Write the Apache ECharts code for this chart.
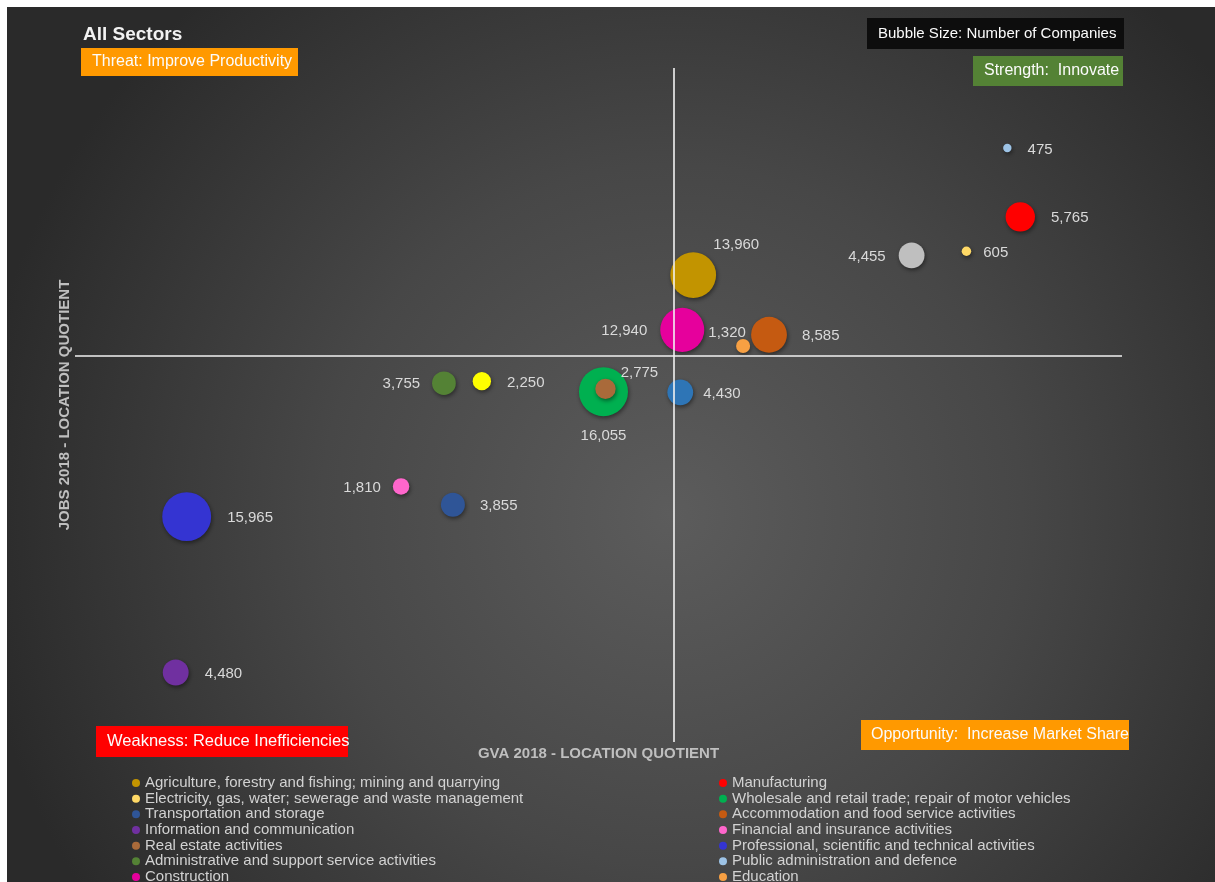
<!DOCTYPE html>
<html><head><meta charset="utf-8">
<script src="https://cdn.jsdelivr.net/npm/echarts@6/dist/echarts.min.js"></script>
<style>html,body{margin:0;padding:0;background:#fff}#c{width:1215px;height:882px}</style>
</head><body><div id="c"></div>
<script>
// ---- data ----
const sectors = [
  'Agriculture, forestry and fishing; mining and quarrying',
  'Manufacturing',
  'Electricity, gas, water; sewerage and waste management',
  'Wholesale and retail trade; repair of motor vehicles',
  'Transportation and storage',
  'Accommodation and food service activities',
  'Information and communication',
  'Financial and insurance activities',
  'Real estate activities',
  'Professional, scientific and technical activities',
  'Administrative and support service activities',
  'Public administration and defence',
  'Construction',
  'Education',
  'Human health and social work activities',
  'Arts, entertainment and recreation',
  'Other service activities'
];
const gvaLQ  = [1.020, 1.348, 1.294, 0.930, 0.779, 1.096, 0.501, 0.727, 0.932, 0.512, 0.770, 1.335, 1.009, 1.070, 1.239, 0.808, 1.007];
const jobsLQ = [1.115, 1.198, 1.149, 0.949, 0.788, 1.030, 0.549, 0.814, 0.953, 0.771, 0.961, 1.296, 1.037, 1.014, 1.143, 0.964, 0.948];
const companies = [13960, 5765, 605, 16055, 3855, 8585, 4480, 1810, 2775, 15965, 3755, 475, 12940, 1320, 4455, 2250, 4430];
const legendLeftNames = [sectors[0], sectors[2], sectors[4], sectors[6], sectors[8], sectors[10], sectors[12]];
const legendRightNames = [sectors[1], sectors[3], sectors[5], sectors[7], sectors[9], sectors[11], sectors[13]];

// ---- styles ----
const colors = ['#C29400', '#FF0000', '#FFD966', '#00B050', '#2F5597', '#C55A11', '#7030A0', '#FF66CC',
  '#A96A3A', '#3434D2', '#548235', '#9DC3E6', '#E6009C', '#F7A043', '#BFBFBF', '#FFFF00', '#2E75B6'];
const labelCfg = [
  {position: 'top', distance: 0, offset: [43, 0]},
  {position: 'right', distance: 16, offset: [0, 1.5]},
  {position: 'right', distance: 12, offset: [0, 1.5]},
  {position: 'bottom', distance: 12},
  {position: 'right', distance: 15, offset: [0, 1.5]},
  {position: 'right', distance: 15, offset: [0, 1]},
  {position: 'right', distance: 16, offset: [0, 1.5]},
  {position: 'left', distance: 12, offset: [0, 1]},
  {position: 'right', distance: 5, offset: [0, -16]},
  {position: 'right', distance: 16, offset: [0, 1.5]},
  {position: 'left', distance: 12, offset: [0, 1]},
  {position: 'right', distance: 16, offset: [0, 1.5]},
  {position: 'left', distance: 13, offset: [0, 1]},
  {position: 'top', distance: -1, offset: [-16, 0]},
  {position: 'left', distance: 13, offset: [0, 1.5]},
  {position: 'right', distance: 16, offset: [0, 1.5]},
  {position: 'right', distance: 10, offset: [0, 1]}
];
const FONT = 'Liberation Sans, Arial, sans-serif';

const chart = echarts.init(document.getElementById('c'), null, {renderer: 'canvas'});

const series = sectors.map((name, i) => ({
  type: 'scatter',
  name: name,
  z: 3,
  data: [[gvaLQ[i], jobsLQ[i], companies[i]]],
  symbolSize: d => 0.387 * Math.sqrt(d[2]),
  itemStyle: {color: colors[i], opacity: 1, shadowBlur: 4, shadowOffsetX: 1, shadowOffsetY: 2, shadowColor: 'rgba(0,0,0,0.45)'},
  label: Object.assign({
    show: true,
    formatter: p => p.value[2].toLocaleString('en-US'),
    color: '#d9d9d9', fontSize: 15, fontFamily: FONT
  }, labelCfg[i]),
  emphasis: {disabled: true}
}));
series.unshift({
  type: 'scatter', name: 'quadrants', data: [], z: 1, silent: true,
  markLine: {
    silent: true, symbol: ['none', 'none'], animation: false,
    label: {show: false},
    lineStyle: {color: '#f2f2f2', width: 1.6, type: 'solid'},
    data: [{xAxis: 1}, {yAxis: 1}]
  }
});

function box(x, y, w, h, fill, text, tx, size) {
  return {
    type: 'group', children: [
      {type: 'rect', shape: {x: x, y: y, width: w, height: h}, style: {fill: fill}},
      {type: 'text', style: {text: text, x: tx, y: y + h / 2, verticalAlign: 'middle', fill: '#fbfbfb', font: size + 'px ' + FONT}}
    ]
  };
}

const legendBase = {
  orient: 'vertical', icon: 'circle', itemWidth: 8, itemHeight: 8, itemGap: 0.67,
  selectedMode: false, height: 140, padding: 0,
  textStyle: {color: '#d2d2d2', fontSize: 15, fontFamily: FONT, lineHeight: 15, padding: [0, 0, 0, 0]}
};

chart.setOption({
  animation: false,
  backgroundColor: '#ffffff',
  title: {
    text: 'All Sectors', left: 78, top: 20,
    textStyle: {color: '#f2f2f2', fontSize: 19, fontWeight: 'bold', fontFamily: FONT}
  },
  grid: {left: 75, right: 93, top: 68, bottom: 140, containLabel: false},
  xAxis: {
    type: 'value', min: 0.4, max: 1.45,
    name: 'GVA 2018 - LOCATION QUOTIENT', nameLocation: 'middle', nameGap: 4,
    nameTextStyle: {color: '#bfbfbf', fontSize: 15, fontWeight: 'bold', fontFamily: FONT},
    axisLine: {show: false}, axisTick: {show: false}, axisLabel: {show: false}, splitLine: {show: false}
  },
  yAxis: {
    type: 'value', min: 0.45, max: 1.41,
    name: 'JOBS 2018 - LOCATION QUOTIENT', nameLocation: 'middle', nameGap: 3,
    nameTextStyle: {color: '#bfbfbf', fontSize: 15, fontWeight: 'bold', fontFamily: FONT},
    axisLine: {show: false}, axisTick: {show: false}, axisLabel: {show: false}, splitLine: {show: false}
  },
  legend: [
    Object.assign({}, legendBase, {left: 132, top: 775.5, data: legendLeftNames}),
    Object.assign({}, legendBase, {left: 719, top: 775.5, data: legendRightNames})
  ],
  graphic: [
    {type: 'rect', z: -100, silent: true, shape: {x: 7, y: 7, width: 1208, height: 875},
      style: {fill: new echarts.graphic.RadialGradient(0.55, 0.58, 0.8, [
        {offset: 0, color: '#5c5c5c'}, {offset: 0.5, color: '#474747'}, {offset: 1, color: '#2a2a2a'}])}},
    box(81, 48, 217, 28, '#FF9900', 'Threat: Improve Productivity', 92, 16),
    box(867, 18, 257, 31, '#0d0d0d', 'Bubble Size: Number of Companies', 878, 15),
    box(973, 56, 150, 30, '#548235', 'Strength:  Innovate', 984, 16),
    box(96, 726, 252, 31, '#FF0000', 'Weakness: Reduce Inefficiencies', 107, 16.5),
    box(861, 720, 268, 30, '#FF9900', 'Opportunity:  Increase Market Share', 871, 16)
  ],
  series: series
});
</script></body></html>
